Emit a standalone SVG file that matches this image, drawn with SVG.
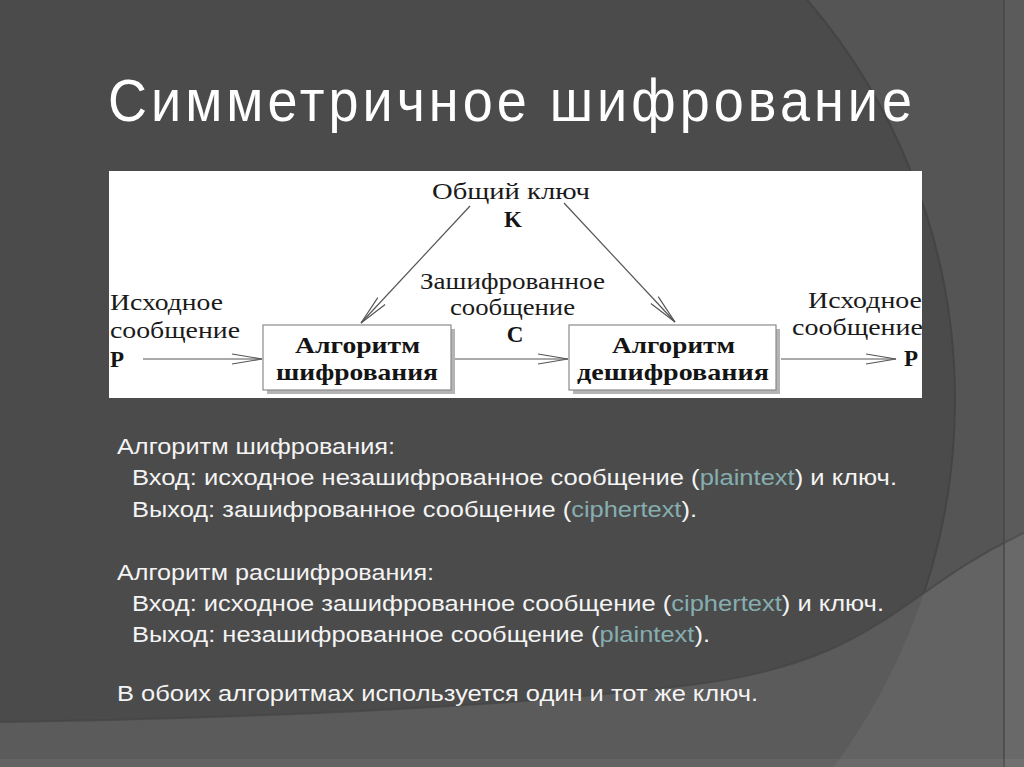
<svg xmlns="http://www.w3.org/2000/svg" width="1024" height="767" viewBox="0 0 1024 767">
  <defs>
    <style>
      .title { font-family: "Liberation Sans", Arial, sans-serif; font-size: 54px; fill: #ffffff; }
      .body { font-family: "Liberation Sans", Arial, sans-serif; font-size: 21px; fill: #f4f4f4; }
      .hl { fill: #86aeb0; }
      .lbl { font-family: "Liberation Serif", "Times New Roman", serif; font-size: 23px; fill: #1a1a1a; }
      .bold { font-weight: bold; fill: #141414; }
      .box { fill: #ffffff; stroke: #8a8a8a; stroke-width: 1.2; }
      .shadow { fill: #b4b4b4; }
      .conn { stroke: #555555; stroke-width: 1.2; fill: none; marker-end: url(#arr); }
    </style>
    <marker id="arr" markerUnits="userSpaceOnUse" markerWidth="34" markerHeight="14" refX="31" refY="6" orient="auto">
      <path d="M1,1 L31,6 L1,11" fill="none" stroke="#555555" stroke-width="1.2"/>
    </marker>
    <clipPath id="outsideCircle">
      <path clip-rule="evenodd" d="M0,0 H1024 V767 H0 Z M955,400 A615,615 0 1,0 -275,400 A615,615 0 1,0 955,400 Z"/>
    </clipPath>
    <clipPath id="panelClip">
      <rect x="109" y="171" width="813" height="227"/>
    </clipPath>
  </defs>

  <!-- background -->
  <rect x="0" y="0" width="1024" height="767" fill="#555555"/>
  <circle cx="340" cy="400" r="615" fill="#4b4b4b" stroke="#444444" stroke-width="2"/>
  <path d="M0,722 C250,718 500,708 690,685 S900,590 1024,533 V767 H0 Z" fill="#5b5b5b"/>
  <path d="M0,722 C250,718 500,708 690,685 S900,590 1024,533 V767 H0 Z" fill="#636363" clip-path="url(#outsideCircle)"/>
  <path d="M0,722 C250,718 500,708 690,685 S900,590 1024,533" fill="none" stroke="#444444" stroke-width="2" opacity="0.7"/>
  <rect x="1004" y="0" width="20" height="767" fill="#ffffff" opacity="0.04"/>
  <line x1="1004" y1="0" x2="1004" y2="767" stroke="#474747" stroke-width="1.5"/>
  <rect x="0" y="759" width="1024" height="8" fill="#ffffff" opacity="0.05"/>

  <!-- title -->
  <g transform="translate(108,121) scale(1,1.08)">
    <text class="title" x="0" y="0" textLength="804" lengthAdjust="spacing">Симметричное шифрование</text>
  </g>

  <!-- diagram panel -->
  <g id="diagram">
    <rect x="109" y="171" width="813" height="227" fill="#ffffff"/>
    <g clip-path="url(#panelClip)">
      <g id="connectors">
        <line class="conn" x1="470" y1="206" x2="361" y2="323"/>
        <line class="conn" x1="564" y1="203" x2="675" y2="322"/>
        <line class="conn" x1="143" y1="359" x2="262" y2="359"/>
        <line class="conn" x1="452" y1="359" x2="568" y2="359"/>
        <line class="conn" x1="781" y1="359" x2="896" y2="359"/>
      </g>

      <g id="key">
        <text class="lbl" x="432" y="199" textLength="158" lengthAdjust="spacingAndGlyphs">Общий ключ</text>
        <text class="lbl bold" x="513" y="227" text-anchor="middle">K</text>
      </g>

      <g id="cipher-msg">
        <text class="lbl" x="420" y="289" textLength="185" lengthAdjust="spacingAndGlyphs">Зашифрованное</text>
        <text class="lbl" x="450" y="315" textLength="125" lengthAdjust="spacingAndGlyphs">сообщение</text>
        <text class="lbl bold" x="515" y="342" text-anchor="middle">C</text>
      </g>

      <g id="input-msg">
        <text class="lbl" x="110" y="310" textLength="113" lengthAdjust="spacingAndGlyphs">Исходное</text>
        <text class="lbl" x="110" y="338" textLength="130" lengthAdjust="spacingAndGlyphs">сообщение</text>
        <text class="lbl bold" x="110" y="367">P</text>
      </g>

      <g id="output-msg">
        <text class="lbl" x="808" y="308" textLength="114" lengthAdjust="spacingAndGlyphs">Исходное</text>
        <text class="lbl" x="792" y="335" textLength="131" lengthAdjust="spacingAndGlyphs">сообщение</text>
        <text class="lbl bold" x="904" y="366">P</text>
      </g>

      <g id="encrypt">
        <rect class="shadow" x="267" y="329" width="188" height="65"/>
        <rect class="box" x="263" y="325" width="188" height="65"/>
        <text class="lbl bold" x="295" y="353" textLength="125" lengthAdjust="spacingAndGlyphs">Алгоритм</text>
        <text class="lbl bold" x="276" y="380" textLength="162" lengthAdjust="spacingAndGlyphs">шифрования</text>
      </g>

      <g id="decrypt">
        <rect class="shadow" x="573" y="329" width="207" height="65"/>
        <rect class="box" x="569" y="325" width="207" height="65"/>
        <text class="lbl bold" x="612" y="353" textLength="123" lengthAdjust="spacingAndGlyphs">Алгоритм</text>
        <text class="lbl bold" x="577" y="380" textLength="192" lengthAdjust="spacingAndGlyphs">дешифрования</text>
      </g>
    </g>
  </g>

  <!-- body text -->
  <g id="body">
    <g transform="translate(117,454) scale(1,1.06)"><text class="body" textLength="278" lengthAdjust="spacingAndGlyphs">Алгоритм шифрования:</text></g>
    <g transform="translate(132,485) scale(1,1.06)"><text class="body" textLength="765" lengthAdjust="spacingAndGlyphs">Вход: исходное незашифрованное сообщение (<tspan class="hl">plaintext</tspan>) и ключ.</text></g>
    <g transform="translate(132,517) scale(1,1.06)"><text class="body" textLength="565" lengthAdjust="spacingAndGlyphs">Выход: зашифрованное сообщение (<tspan class="hl">ciphertext</tspan>).</text></g>
    <g transform="translate(117,580) scale(1,1.06)"><text class="body" textLength="317" lengthAdjust="spacingAndGlyphs">Алгоритм расшифрования:</text></g>
    <g transform="translate(132,611) scale(1,1.06)"><text class="body" textLength="752" lengthAdjust="spacingAndGlyphs">Вход: исходное зашифрованное сообщение (<tspan class="hl">ciphertext</tspan>) и ключ.</text></g>
    <g transform="translate(132,642) scale(1,1.06)"><text class="body" textLength="578" lengthAdjust="spacingAndGlyphs">Выход: незашифрованное сообщение (<tspan class="hl">plaintext</tspan>).</text></g>
    <g transform="translate(117,701) scale(1,1.06)"><text class="body" textLength="641" lengthAdjust="spacingAndGlyphs">В обоих алгоритмах используется один и тот же ключ.</text></g>
  </g>
</svg>
